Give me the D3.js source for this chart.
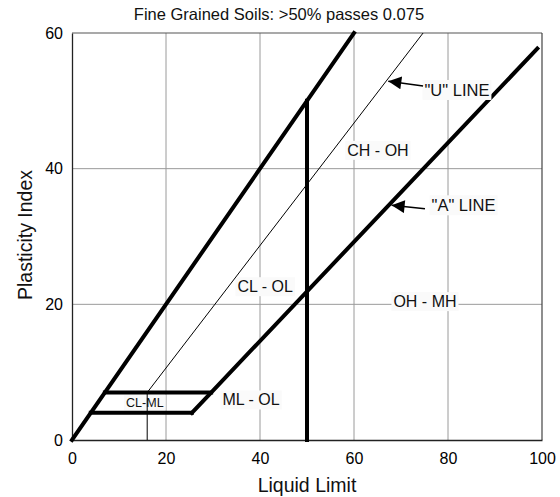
<!DOCTYPE html>
<html>
<head>
<meta charset="utf-8">
<script src="https://cdn.jsdelivr.net/npm/d3@7"></script>
<style>
  html, body { margin: 0; padding: 0; background: #fff; }
  svg { display: block; font-family: "Liberation Sans", Arial, sans-serif; }
</style>
</head>
<body>
<svg id="chart" width="560" height="497"></svg>
<script>
// Plasticity chart (Casagrande) — boundary lines as [Liquid Limit, Plasticity Index] points
const xTicks = [0, 20, 40, 60, 80, 100];
const yTicks = [0, 20, 40, 60];

const upperBound = [[0, 0], [60, 60]];
const aLine = [[25.5, 4], [29.6, 7], [99, 57.7]];
const lowShelf = [[4, 4], [25.5, 4]];
const highShelf = [[7, 7], [29.6, 7]];
const llFifty = [[50, 0], [50, 50]];
const uLine = [[16, 0], [16, 7], [74.7, 60]];

const zoneNames = ["CL-ML", "ML - OL", "CL - OL", "CH - OH", "OH - MH"];
const zoneLL = [15.5, 38.1, 41.1, 65.1, 75.1];
const zonePI = [5.5, 5.9, 22.6, 42.7, 20.4];
const zoneSize = [12.5, 16, 16, 16, 16];

const callouts = [
  { text: '"U" LINE', tip: [67.3, 52.9], tail: [74.7, 52.2], at: [75.0, 51.6] },
  { text: '"A" LINE', tip: [68.0, 34.6], tail: [75.1, 34.1], at: [76.5, 34.6] }
];

const svg = d3.select("#chart");
const plotL = 72, plotR = 542, plotT = 33, plotB = 440;

const x = d3.scaleLinear().domain([0, 100]).range([plotL, plotR]);
const y = d3.scaleLinear().domain([0, 60]).range([plotB, plotT]);

// grid
const grid = svg.append("g");
grid.selectAll("line.vx").data(xTicks.filter(d => d > 0 && d < 100)).join("line")
  .attr("x1", d => x(d)).attr("x2", d => x(d)).attr("y1", y(0)).attr("y2", y(60))
  .attr("stroke", "#9a9a9a").attr("stroke-width", 1);
grid.selectAll("line.hy").data(yTicks.filter(d => d > 0 && d < 60)).join("line")
  .attr("x1", x(0)).attr("x2", x(100)).attr("y1", d => y(d)).attr("y2", d => y(d))
  .attr("stroke", "#9a9a9a").attr("stroke-width", 1);

// frame
svg.append("line").attr("x1", x(0)).attr("x2", x(100)).attr("y1", y(60)).attr("y2", y(60))
  .attr("stroke", "#555").attr("stroke-width", 1.2);
svg.append("line").attr("x1", x(100)).attr("x2", x(100)).attr("y1", y(0)).attr("y2", y(60))
  .attr("stroke", "#444").attr("stroke-width", 1.2);

// axes
const xAxis = svg.append("g").attr("transform", `translate(0,${y(0)})`)
  .call(d3.axisBottom(x).tickValues(xTicks).tickSize(0).tickPadding(13));
const yAxis = svg.append("g").attr("transform", `translate(${x(0)},0)`)
  .call(d3.axisLeft(y).tickValues(yTicks).tickSize(0).tickPadding(9));
[xAxis, yAxis].forEach(g => {
  g.select(".domain").attr("stroke", "#222").attr("stroke-width", 1.3);
  g.selectAll("text").attr("font-size", 16).attr("fill", "#000")
    .attr("font-family", '"Liberation Sans", Arial, sans-serif');
});

// zone labels with soft background boxes
const labels = svg.append("g");
zoneNames.forEach((name, i) => {
  const g = labels.append("g");
  const t = g.append("text")
    .attr("x", x(zoneLL[i])).attr("y", y(zonePI[i]))
    .attr("text-anchor", "middle").attr("dominant-baseline", "central")
    .attr("font-size", zoneSize[i]).attr("fill", "#111").text(name);
  const b = t.node().getBBox();
  g.insert("rect", "text").attr("x", b.x - 2).attr("y", b.y - 1)
    .attr("width", b.width + 4).attr("height", b.height + 2).attr("fill", "#fafafa");
});

// boundary lines
const line = d3.line().x(d => x(d[0])).y(d => y(d[1]));
[upperBound, aLine, lowShelf, highShelf, llFifty].forEach(pts => {
  svg.append("path").attr("d", line(pts)).attr("fill", "none")
    .attr("stroke", "#000").attr("stroke-width", 4).attr("stroke-linecap", "square");
});
svg.append("path").attr("d", line(uLine)).attr("fill", "none")
  .attr("stroke", "#000").attr("stroke-width", 1);

// callouts
svg.append("defs").append("marker").attr("id", "arrowHead")
  .attr("viewBox", "0 0 10 10").attr("refX", 10).attr("refY", 5)
  .attr("markerWidth", 17).attr("markerHeight", 13).attr("markerUnits", "userSpaceOnUse")
  .attr("orient", "auto")
  .append("path").attr("d", "M0,0 L10,5 L0,10 Z").attr("fill", "#000");

callouts.forEach(c => {
  const g = svg.append("g");
  const t = g.append("text").attr("x", x(c.at[0])).attr("y", y(c.at[1]))
    .attr("dominant-baseline", "central").attr("font-size", 16.5).attr("fill", "#111").text(c.text);
  const b = t.node().getBBox();
  g.insert("rect", "text").attr("x", b.x - 2).attr("y", b.y - 1)
    .attr("width", b.width + 4).attr("height", b.height + 2).attr("fill", "#fafafa");
  g.append("line").attr("x1", x(c.tail[0])).attr("y1", y(c.tail[1]))
    .attr("x2", x(c.tip[0])).attr("y2", y(c.tip[1]))
    .attr("stroke", "#000").attr("stroke-width", 1.5).attr("marker-end", "url(#arrowHead)");
});

// titles
svg.append("text").attr("x", 279).attr("y", 20).attr("text-anchor", "middle")
  .attr("font-size", 16.5).attr("fill", "#111").text("Fine Grained Soils: >50% passes 0.075");
svg.append("text").attr("x", x(50)).attr("y", 492).attr("text-anchor", "middle")
  .attr("font-size", 19.5).attr("fill", "#111").text("Liquid Limit");
svg.append("text").attr("transform", "translate(31.5,235) rotate(-90)")
  .attr("text-anchor", "middle").attr("font-size", 19.5).attr("fill", "#111").text("Plasticity Index");
</script>
</body>
</html>
